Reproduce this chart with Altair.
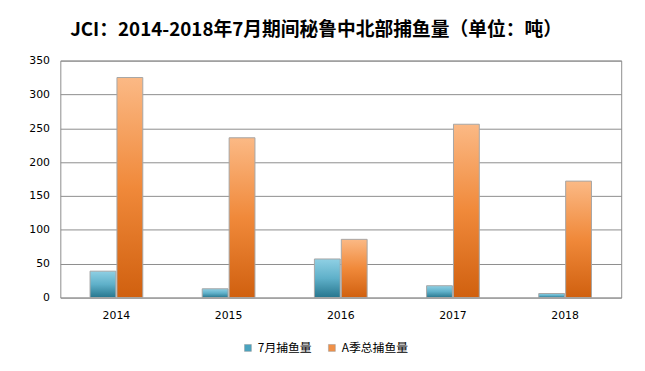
import altair as alt
import pandas as pd

years = ["2014", "2015", "2016", "2017", "2018"]
july_catch = [39, 13, 57, 17.5, 6]
season_catch = [325, 236, 86, 256, 172]
series_names = ["7月捕鱼量", "A季总捕鱼量"]
y_ticks = [0, 50, 100, 150, 200, 250, 300, 350]

rows = []
for i, y in enumerate(years):
    rows.append({"year": y, "series": series_names[0], "value": july_catch[i]})
    rows.append({"year": y, "series": series_names[1], "value": season_catch[i]})
df = pd.DataFrame(rows)

blue_grad = alt.Gradient(
    gradient="linear",
    stops=[alt.GradientStop(color="#8fd0e4", offset=0),
           alt.GradientStop(color="#5fb0c9", offset=0.5),
           alt.GradientStop(color="#27768e", offset=1)],
    x1=0, x2=0, y1=0, y2=1,
)
orange_grad = alt.Gradient(
    gradient="linear",
    stops=[alt.GradientStop(color="#fbb985", offset=0),
           alt.GradientStop(color="#f0893a", offset=0.5),
           alt.GradientStop(color="#d0600f", offset=1)],
    x1=0, x2=0, y1=0, y2=1,
)

x_enc = alt.X("year:N", sort=years,
              scale=alt.Scale(paddingInner=0.53, paddingOuter=0.265),
              axis=alt.Axis(title=None, labelAngle=0, ticks=False, domain=False,
                            labelPadding=12, labelFont="DejaVu Sans",
                            labelFontSize=11, labelColor="#000000"))
y_enc = alt.Y("value:Q",
              scale=alt.Scale(domain=[0, 350], nice=False),
              axis=alt.Axis(title=None, values=y_ticks, ticks=False, domain=False,
                            labelPadding=11, labelFont="DejaVu Sans",
                            labelFontSize=11, labelColor="#000000",
                            gridColor="#8c8c8c", gridWidth=1, gridOpacity=1))
xoff = alt.XOffset("series:N", sort=series_names,
                   scale=alt.Scale(domain=series_names, paddingInner=0.04))

base = alt.Chart(df)

blue = base.transform_filter(alt.datum.series == series_names[0]).mark_bar(
    fill=blue_grad, stroke="#a6a6a6", strokeWidth=1
).encode(x=x_enc, y=y_enc, xOffset=xoff)

orange = base.transform_filter(alt.datum.series == series_names[1]).mark_bar(
    fill=orange_grad, stroke="#a6a6a6", strokeWidth=1
).encode(x=x_enc, y=y_enc, xOffset=xoff)

legend_layer = base.mark_square(opacity=0, size=1).encode(
    x=x_enc, y=y_enc,
    color=alt.Color("series:N", sort=series_names,
                    scale=alt.Scale(domain=series_names, range=["#4aa3bf", "#f09048"]),
                    legend=alt.Legend(title=None, orient="none", direction="horizontal",
                                      legendX=184, legendY=285,
                                      symbolType="square", symbolSize=49,
                                      symbolOpacity=1, symbolStrokeColor="#9a9a9a",
                                      symbolStrokeWidth=0.5,
                                      labelFont="Noto Sans CJK SC", labelFontSize=12,
                                      labelColor="#000000", labelOffset=4,
                                      columnPadding=14)),
)

chart = alt.layer(blue, orange, legend_layer).properties(
    width=568, height=240,
    title=alt.TitleParams(text="JCI：2014-2018年7月期间秘鲁中北部捕鱼量（单位：吨）",
                          font="Noto Sans CJK SC", fontSize=19, fontWeight="bold",
                          color="#000000", anchor="middle", dx=-25, offset=15),
    autosize=alt.AutoSizeParams(type="none"),
    padding={"left": 53, "top": 51, "right": 16, "bottom": 64},
    background="#ffffff",
).configure_view(stroke="#8c8c8c", strokeWidth=1)

chart.save("out.html", embed_options={"renderer": "svg", "actions": False})
